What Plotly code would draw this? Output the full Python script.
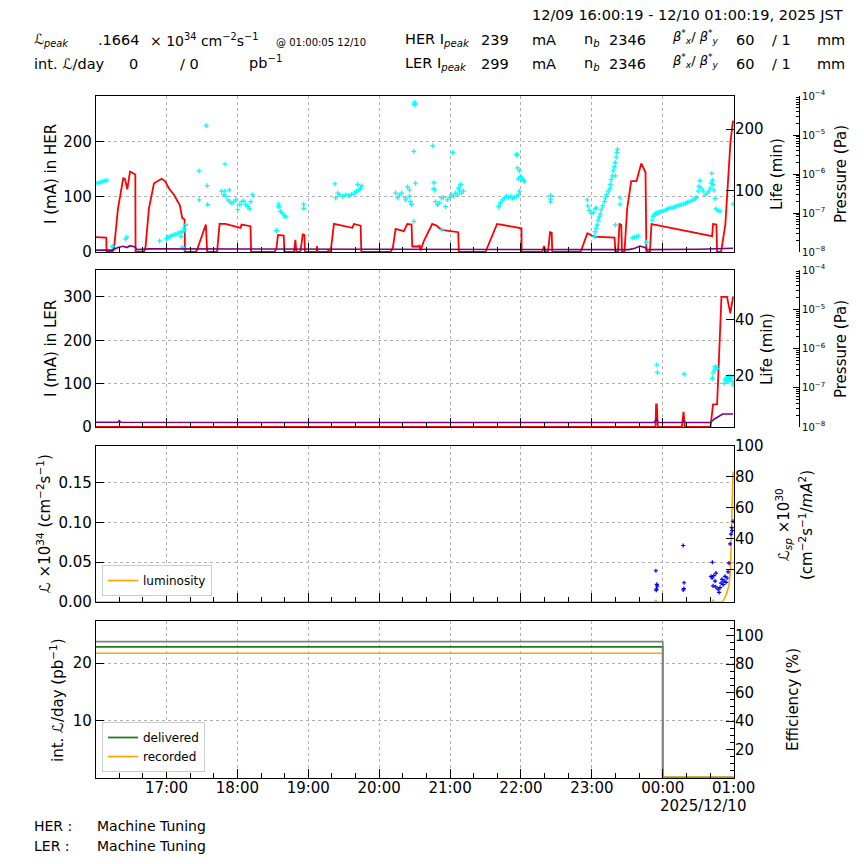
import pandas as pd
import plotly.graph_objects as go

BASE = pd.Timestamp("2025-12-09 16:00:00")
X_RANGE = ["2025-12-09 16:00:19", "2025-12-10 01:00:19"]


def T(mins):
    return [BASE + pd.Timedelta(minutes=m) for m in mins]


# ---------------- data (time in minutes after 12/09 16:00) ----------------
# HER current (mA)
her_i_t = [0.3, 9.0, 9.3, 14.1, 15.5, 18.9, 23.4, 24.8, 26.8, 29.1, 31.0, 33.6, 33.8,
           40.9, 42.3, 45.1, 49.4, 52.1, 55.9, 58.7, 62.0, 66.3, 71.3, 73.3, 75.3, 75.6,
           84.6, 85.7, 93.3, 94.4, 102.8, 104.9, 109.9, 122.6, 123.5, 131.1, 131.6,
           151.6, 153.1, 154.4, 159.2, 159.8, 167.9, 169.1, 169.9, 173.3, 175.3, 176.7, 177.2,
           187.1, 187.4, 187.7, 196.7, 197.0, 197.2, 198.9, 201.7, 217.3, 218.6, 224.3, 224.9,
           249.6, 251.6, 253.9, 260.9, 263.8, 267.4, 268.0, 273.6, 274.1, 275.0, 277.8, 284.9,
           288.5, 290.5, 292.7, 306.9, 307.4, 329.9, 339.8, 360.4, 360.6,
           378.1, 379.5, 380.9, 382.9, 384.6, 386.0, 386.5, 410.5, 416.2, 421.8, 439.2, 440.0,
           442.1, 443.4, 444.9, 445.5, 447.6, 449.9, 453.3, 457.8, 461.8, 465.4, 466.2,
           469.1, 470.5, 471.9, 521.8, 522.6, 525.4, 526.0, 529.4, 533.0, 537.3, 539.5]
her_i = [27, 26, 0, 0, 5, 79, 134, 133, 114, 146, 144, 141, 0,
         0, 10, 79, 125, 128, 133, 129, 116, 104, 85, 62, 59, 0,
         0, 3, 50, 0, 0, 51, 51, 44, 50, 47, 0,
         0, 8, 31, 30, 0, 0, 22, 0, 0, 32, 31, 0,
         0, 11, 0, 0, 5, 0, 0, 51, 44, 51, 48, 0,
         0, 8, 42, 38, 51, 50, 10, 10, 13, 3, 20, 51,
         48, 44, 40, 36, 0, 0, 51, 43, 0,
         0, 11, 0, 0, 36, 35, 0, 0, 34, 28, 26, 0,
         0, 51, 49, 0, 0, 79, 129, 129, 161, 145, 0,
         0, 51, 50, 29, 51, 50, 0, 0, 50, 200, 239]

# HER lifetime (min)
her_life_t = [0.3, 2.9, 4.6, 6.3, 7.9, 9.6, 14.1, 25.4, 26.3, 54.2,
              60.1, 61.2, 62.9, 64.6, 66.3, 67.9, 69.6, 71.3, 73.0, 74.7, 74.7, 76.1, 72.4, 73.3, 74.7,
              87.6, 87.6, 93.6, 94.4, 94.7, 109.6,
              106.6, 108.5, 109.4, 110.2, 111.9, 113.3, 113.6, 115.3, 117.0, 118.7, 120.3, 122.0,
              123.7, 125.4, 127.1, 128.8, 130.5, 131.3, 132.8,
              153.0, 155.0, 155.0, 156.4, 158.1, 159.8, 160.9, 176.1, 176.1,
              202.6, 203.2, 204.9, 206.5, 209.1, 211.6, 214.2, 216.7, 219.2, 220.9, 221.8, 222.6, 224.3, 225.2,
              253.9, 255.6, 257.3, 259.0, 262.4, 262.4, 264.0, 265.7, 265.7, 266.5, 267.4, 269.3, 269.9,
              269.9, 269.3, 270.8,
              285.4, 286.2, 286.2, 287.1, 287.7, 289.4, 291.1, 292.7, 293.3, 294.4, 296.1, 297.8, 299.5,
              301.2, 302.3, 302.9, 304.6, 306.3, 307.1, 308.0, 308.8, 309.6, 311.3,
              341.2, 342.6, 344.3, 346.0, 347.7, 349.4, 351.1, 352.8, 354.4, 356.1, 356.1, 357.0, 357.0,
              357.8, 357.8, 358.7, 358.7, 359.5, 361.2, 362.1, 362.9,
              385.1, 385.1, 385.1,
              416.1, 416.7, 417.8, 419.5, 421.2, 422.9, 423.7,
              422.3, 422.9, 423.7, 424.6, 425.4, 426.3, 427.1, 428.0, 429.1, 430.5, 431.4, 432.4, 433.9,
              435.3, 435.6, 436.4, 437.3, 438.1, 439.0, 439.8, 440.0, 440.0, 440.6, 441.2, 441.7,
              443.8, 443.8, 454.2, 455.9, 457.6, 459.3, 466.2,
              471.1, 471.9, 472.7, 473.6, 474.4, 475.3, 476.1, 477.0, 478.7, 480.4, 482.1, 483.8, 485.4,
              487.1, 488.8, 490.5, 492.2, 493.9, 495.6, 497.3, 499.0, 500.7, 502.4, 504.1, 505.8, 507.5,
              508.3, 510.0, 510.8, 511.4, 512.5, 514.2, 515.9, 517.6, 519.3, 520.1, 521.0, 521.5, 522.0,
              522.6, 523.2, 524.3, 525.1, 526.8, 528.5, 539.5]
her_life = [112, 113, 114, 115, 116, 117, 9, 21, 24, 18,
            22, 24, 25, 27, 28, 29, 30, 32, 33, 35, 39, 45, 25, 8, 5,
            132, 85, 206, 108, 77, 143,
            99, 93, 99, 91, 85, 101, 82, 79, 82, 85, 69, 77,
            82, 83, 77, 74, 70, 82, 93,
            35, 78, 74, 66, 63, 59, 57, 78, 71,
            111, 88, 96, 93, 91, 93, 92, 94, 96, 99, 110, 101, 104, 108,
            96, 88, 93, 96, 85, 88, 106, 101, 91, 82, 77, 164, 240,
            243, 50, 112,
            173, 113, 103, 101, 82, 77, 80, 88, 36, 89, 74, 85, 89,
            93, 162, 91, 96, 93, 104, 99, 110, 96, 99,
            74, 80, 85, 88, 91, 89, 91, 88, 89, 159, 91, 158, 137,
            93, 119, 132, 99, 123, 119, 116, 115,
            92, 86, 82,
            85, 75, 68, 63, 64, 70, 72,
            26, 33, 39, 44, 52, 57, 62, 69, 75, 82, 88, 93, 99,
            104, 110, 118, 124, 132, 139, 146, 124, 44, 154, 162, 167,
            88, 78, 23, 24, 25, 26, 16,
            52, 58, 60, 62, 63, 63, 64, 65, 66, 67, 68, 70, 71,
            72, 72, 74, 75, 76, 77, 78, 79, 81, 82, 83, 85, 87,
            89, 99, 107, 116, 104, 99, 93, 96, 99, 104, 112, 128, 117,
            110, 101, 87, 70, 67, 67, 78]

# HER pressure (Pa)
her_p_t = [0.3, 13.9, 18.9, 23.2, 26.5, 29.1, 33.3, 35.0, 46.0, 62.9, 88.2, 172.9, 257.2,
           342.3, 451.3, 456.4, 460.6, 464.9, 466.6, 510.6, 527.5, 539.5]
her_p = [1.12e-8, 1.12e-8, 1.3e-8, 1.4e-8, 1.3e-8, 1.45e-8, 1.35e-8, 1.15e-8, 1.2e-8, 1.2e-8,
         1.18e-8, 1.15e-8, 1.15e-8, 1.15e-8, 1.15e-8, 1.25e-8, 1.42e-8, 1.3e-8, 1.15e-8,
         1.18e-8, 1.2e-8, 1.25e-8]

# LER current (mA)
ler_i_t = [0.3, 473.9, 474.4, 475.0, 475.8, 496.2, 497.6, 498.7, 520.4, 522.6, 526.0, 529.7,
           534.4, 537.2, 539.5]
ler_i = [0, 0, 52, 52, 0, 0, 35, 0, 0, 52, 52, 300, 300, 262, 300]

# LER lifetime (min)
ler_life_t = [475.0, 475.5, 498.1, 522.0, 522.6, 523.4, 524.3, 525.1, 526.0, 531.9, 532.7,
              533.6, 534.4, 535.3, 536.1, 537.0, 537.8, 538.7, 539.5]
ler_life = [23.9, 21.3, 20.7, 19.2, 21.0, 22.1, 23.3, 23.3, 22.7, 17.4, 18.6,
            19.2, 18.0, 19.8, 18.6, 19.2, 19.8, 18.0, 16.8]

# LER pressure (Pa)
ler_p_t = [0.3, 18.9, 20.0, 21.5, 172.7, 472.7, 474.7, 476.1, 496.6, 497.6, 499.1, 520.4,
           523.8, 526.3, 530.8, 539.5]
ler_p = [1.32e-8, 1.32e-8, 1.45e-8, 1.32e-8, 1.3e-8, 1.3e-8, 1.57e-8, 1.3e-8, 1.3e-8, 1.45e-8,
         1.3e-8, 1.3e-8, 1.6e-8, 1.8e-8, 2.14e-8, 2.14e-8]

# Luminosity (x1e34 cm-2 s-1)
lum_t = [0.3, 472.7, 474.2, 475.3, 521.8, 522.6, 523.4, 530.8, 533.9, 536.0, 537.3, 537.6,
         538.4, 539.5]
lum = [0, 0, 0.002, 0, 0, 0.002, 0, 0, 0.01, 0.02, 0.04, 0.07, 0.105, 0.164]

# Specific luminosity (x1e30)
lsp_t = [474.2, 475.0, 475.3, 474.7, 474.5, 497.3, 498.1, 497.9, 497.3, 522.0, 520.9, 521.8,
         523.2, 524.3, 522.6, 524.9, 525.1, 526.8, 527.7, 528.5, 529.4, 530.2, 531.1, 531.9,
         532.7, 533.6, 534.4, 535.3, 536.1, 537.0, 537.8, 538.4, 538.9, 539.5]
lsp = [19, 10.2, 9, 7, 6.4, 35.4, 11.2, 7.4, 6.5, 24.5, 15.4, 14.3,
       15.8, 12.3, 9.2, 8.5, 17.5, 7, 5, 8, 11, 13.4, 10, 12.3,
       15.4, 11.5, 14.3, 18.3, 24, 36.5, 42.8, 47, 45, 51]

# Integrated luminosity per day (pb-1) and efficiency (%)
int_t = [0.3, 480.0, 540.0]
delivered = [22.86, 0, 0]
recorded = [21.75, 0, 0]
efficiency = [95.8, 0, 0]

# pressure axis decades
p_decades = [-8, -7, -6, -5, -4]

# ---------------- layout helpers ----------------
W = 864
FONT = "DejaVu Sans"


def px(p):
    return p / W


def py(p):
    return 1 - p / W


XD = [px(96), px(734)]
P1 = [py(252), py(96)]
P2 = [py(427), py(270)]
P3 = [py(602), py(446)]
P4 = [py(778), py(621)]

fig = go.Figure()

cyan_marker = dict(symbol="cross-thin", size=3.5, color="#00ffff",
                   line=dict(width=1.3, color="#00ffff"))
blue_marker = dict(symbol="cross-thin", size=3, color="#0000ff",
                   line=dict(width=1.2, color="#0000ff"))

# Panel 1
fig.add_trace(go.Scatter(x=T(her_i_t), y=her_i, mode="lines", line=dict(color="red", width=1.8),
                         xaxis="x", yaxis="y", showlegend=False))
fig.add_trace(go.Scatter(x=T(her_life_t), y=her_life, mode="markers", marker=cyan_marker,
                         xaxis="x", yaxis="y2", showlegend=False))
fig.add_trace(go.Scatter(x=T(her_p_t), y=her_p, mode="lines", line=dict(color="purple", width=1.6),
                         xaxis="x", yaxis="y3", showlegend=False))
# Panel 2
fig.add_trace(go.Scatter(x=T(ler_i_t), y=ler_i, mode="lines", line=dict(color="red", width=1.8),
                         xaxis="x2", yaxis="y4", showlegend=False))
fig.add_trace(go.Scatter(x=T(ler_life_t), y=ler_life, mode="markers", marker=cyan_marker,
                         xaxis="x2", yaxis="y5", showlegend=False))
fig.add_trace(go.Scatter(x=T(ler_p_t), y=ler_p, mode="lines", line=dict(color="purple", width=1.6),
                         xaxis="x2", yaxis="y6", showlegend=False))
# Panel 3
fig.add_trace(go.Scatter(x=T(lum_t), y=lum, mode="lines", line=dict(color="orange", width=1.6),
                         name="luminosity", xaxis="x3", yaxis="y7", legend="legend"))
fig.add_trace(go.Scatter(x=T(lsp_t), y=lsp, mode="markers", marker=blue_marker,
                         xaxis="x3", yaxis="y8", showlegend=False))
# Panel 4
fig.add_trace(go.Scatter(x=T(int_t), y=efficiency, mode="lines", line=dict(color="gray", width=1.6, shape="hv"),
                         xaxis="x4", yaxis="y10", showlegend=False))
fig.add_trace(go.Scatter(x=T(int_t), y=delivered, mode="lines", line=dict(color="#1e7b1e", width=1.8, shape="hv"),
                         name="delivered", xaxis="x4", yaxis="y9", legend="legend2"))
fig.add_trace(go.Scatter(x=T(int_t), y=recorded, mode="lines", line=dict(color="orange", width=1.6, shape="hv"),
                         name="recorded", xaxis="x4", yaxis="y9", legend="legend2"))

grid = dict(showgrid=True, gridcolor="#b0b0b0", griddash="dot", gridwidth=1)
tickf = dict(family=FONT, size=15, color="black")


def xax(anchor, labels=False):
    d = dict(type="date", range=X_RANGE, domain=XD, anchor=anchor, tickformat="%H:%M",
             dtick=3600000, tick0="2025-12-09 17:00", ticks="inside", ticklen=9, tickcolor="black",
             showline=True, linecolor="black", linewidth=1.2, mirror=True, zeroline=False,
             showticklabels=labels, tickfont=tickf, automargin=False, ticklabelstandoff=-4,
             minor=dict(dtick=1200000, tick0="2025-12-09 16:00", ticks="inside", ticklen=5,
                        tickcolor="black", showgrid=False), **grid)
    if anchor != "y":
        d["matches"] = "x"
    return d


def yleft(dom, anchor, rng, tv, fmt=None):
    d = dict(domain=dom, anchor=anchor, range=rng, tickvals=tv, ticks="inside", ticklen=8,
             tickcolor="black", showline=True, linecolor="black", linewidth=1.2, mirror=True,
             zeroline=False, tickfont=tickf, automargin=False, **grid)
    if fmt:
        d["tickformat"] = fmt
    return d


def yright(over, anchor, rng, tv, minor=None):
    d = dict(overlaying=over, side="right", anchor=anchor, range=rng, tickvals=tv, ticks="inside",
             ticklen=8, tickcolor="black", showgrid=False, showline=False, zeroline=False,
             tickfont=tickf, automargin=False)
    if minor:
        d["minor"] = minor
    return d


def ypress(over):
    major = [10.0 ** d for d in p_decades]
    minor_vals = [k * 10.0 ** d for d in p_decades[:-1] for k in range(2, 10)]
    return dict(overlaying=over, side="right", anchor="free", position=px(799), type="log",
                range=[p_decades[0], p_decades[-1]], tickvals=major,
                ticktext=["10<sup>−%d</sup>" % (-d) for d in p_decades],
                ticks="inside", ticklen=6, tickcolor="black", showline=True, linecolor="black",
                linewidth=1.2, showgrid=False, zeroline=False, automargin=False,
                tickfont=dict(family=FONT, size=10, color="black"),
                minor=dict(tickmode="array", tickvals=minor_vals, ticks="inside", ticklen=3,
                           tickcolor="black", showgrid=False))


fig.update_layout(
    width=W, height=W, margin=dict(l=0, r=0, t=0, b=0, autoexpand=False),
    paper_bgcolor="white", plot_bgcolor="white",
    font=dict(family=FONT, size=15, color="black"),
    xaxis=xax("y"), xaxis2=xax("y4"), xaxis3=xax("y7"), xaxis4=xax("y9", labels=True),
    yaxis=yleft(P1, "x", [0, 283.6], [0, 100, 200]),
    yaxis2=yright("y", "x", [0, 254], [100, 200]),
    yaxis3=ypress("y"),
    yaxis4=yleft(P2, "x2", [0, 362], [0, 100, 200, 300]),
    yaxis5=yright("y4", "x2", [2.0, 57.4], [20, 40]),
    yaxis6=ypress("y4"),
    yaxis7=yleft(P3, "x3", [0, 0.196], [0, 0.05, 0.10, 0.15], fmt=".2f"),
    yaxis8=yright("y7", "x3", [-1.3, 100], [20, 40, 60, 80, 100]),
    yaxis9=yleft(P4, "x4", [-0.12, 27.4], [10, 20]),
    yaxis10=yright("y9", "x4", [0, 110.3], [20, 40, 60, 80, 100],
                   minor=dict(dtick=5, ticks="inside", ticklen=4, tickcolor="black", showgrid=False)),
    legend=dict(x=px(102), y=py(596), xanchor="left", yanchor="bottom", bgcolor="rgba(255,255,255,0.85)",
                bordercolor="#cccccc", borderwidth=1, font=dict(family=FONT, size=12),
                itemwidth=30, tracegroupgap=0),
    legend2=dict(x=px(102), y=py(772), xanchor="left", yanchor="bottom", bgcolor="rgba(255,255,255,0.85)",
                 bordercolor="#cccccc", borderwidth=1, font=dict(family=FONT, size=12),
                 itemwidth=30, tracegroupgap=0),
)

ann = []


def text(x, y, s, size=14.5, anchor="left", angle=0):
    ann.append(dict(x=px(x), y=py(y), xref="paper", yref="paper", text=s, showarrow=False,
                    xanchor=anchor, yanchor="middle", textangle=angle,
                    font=dict(family=FONT, size=size, color="black")))


L = "<i>ℒ</i>"
# header
text(845, 15, "12/09 16:00:19 - 12/10 01:00:19, 2025 JST", anchor="right")
text(32, 40, "<i>ℒ<sub>peak</sub></i>", size=14)
text(96, 40, ".1664")
text(148, 40, "× 10<sup>34</sup> cm<sup>−2</sup>s<sup>−1</sup>", size=14)
text(274, 42, "@ 01:00:05 12/10", size=10)
text(32, 64, "int. " + L + "/day")
text(127, 64, "0")
text(178, 64, "/ 0")
text(247, 62, "pb<sup>−1</sup>")
for yy, ring, ip in [(40, "HER", "239"), (64, "LER", "299")]:
    text(403, yy, ring + " I<sub><i>peak</i></sub>")
    text(479, yy, ip)
    text(530, yy, "mA")
    text(582, yy, "n<sub><i>b</i></sub>")
    text(607, yy, "2346")
    text(670, yy - 3, "<i>β</i><sup>*</sup><sub><i>x</i></sub>/ <i>β</i><sup>*</sup><sub><i>y</i></sub>", size=13)
    text(734, yy, "60")
    text(770, yy, "/ 1")
    text(815, yy, "mm")

# axis titles
text(51, 174, "I (mA) in HER", size=15, anchor="center", angle=-90)
text(777, 174, "Life (min)", size=15, anchor="center", angle=-90)
text(841, 174, "Pressure (Pa)", size=15, anchor="center", angle=-90)
text(51, 349, "I (mA) in LER", size=15, anchor="center", angle=-90)
text(767, 349, "Life (min)", size=15, anchor="center", angle=-90)
text(841, 349, "Pressure (Pa)", size=15, anchor="center", angle=-90)
text(44, 524, L + " ×10<sup>34</sup> (cm<sup>−2</sup>s<sup>−1</sup>)", size=15, anchor="center", angle=-90)
text(783, 525, "<i>ℒ<sub>sp</sub></i> ×10<sup>30</sup>", size=15, anchor="center", angle=-90)
text(806, 525, "(cm<sup>−2</sup>s<sup>−1</sup>/<i>mA</i><sup>2</sup>)", size=15, anchor="center", angle=-90)
text(57, 700, "int. " + L + "/day (pb<sup>−1</sup>)", size=15, anchor="center", angle=-90)
text(793, 700, "Efficiency (%)", size=15, anchor="center", angle=-90)

# date under the axis and footer
text(748, 806, "2025/12/10", size=15, anchor="right")
text(32, 826, "HER :", size=14)
text(95, 826, "Machine Tuning", size=14)
text(32, 846, "LER :", size=14)
text(95, 846, "Machine Tuning", size=14)

fig.update_layout(annotations=ann)
fig.write_html("out.html", config={"displayModeBar": False},
               post_script="document.body.style.margin='0';document.body.style.overflow='hidden';")
